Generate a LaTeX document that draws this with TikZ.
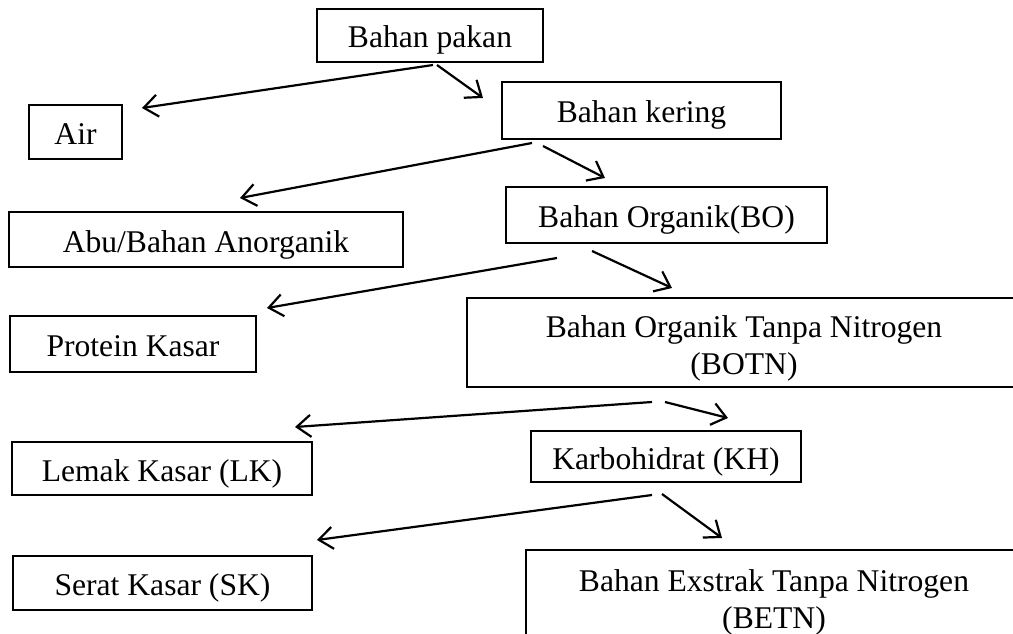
\documentclass[tikz,border=0pt]{standalone}
\usepackage{fontspec}
\setmainfont{Liberation Serif}
\usetikzlibrary{arrows.meta}
\tikzset{
  box/.style={draw, line width=1.8pt, inner sep=0pt, align=center,
    font=\fontsize{31.6}{37}\selectfont, text height=25pt, text depth=0pt},
  twoline/.style={text height=#1, text depth=0pt},
  conn/.style={line width=2.2pt, -{Straight Barb[length=14pt,width=22pt,line width=2.2pt]}}
}
\begin{document}
\begin{tikzpicture}[x=1pt,y=-1pt]
\clip (0,0) rectangle (1013,634);
\fill[white] (0,0) rectangle (1013,634);
% boxes (centre, width, height)
\node[box, minimum width=226pt, minimum height=53pt] (pakan) at (430,35.5) {Bahan pakan};
\node[box, minimum width=93pt, minimum height=54pt] (air) at (75.5,132) {Air};
\node[box, minimum width=279pt, minimum height=57pt] (kering) at (641.5,110.5) {Bahan kering};
\node[box, minimum width=394pt, minimum height=55pt] (abu) at (206,239.5) {Abu/Bahan Anorganik};
\node[box, minimum width=321pt, minimum height=56pt] (bo) at (666.5,215) {Bahan Organik(BO)};
\node[box, minimum width=246pt, minimum height=56pt] (protein) at (133,344) {Protein Kasar};
\node[box, twoline=63pt, minimum width=554pt, minimum height=89pt] (botn) at (744,342.5) {Bahan Organik Tanpa Nitrogen\\(BOTN)};
\node[box, minimum width=300pt, minimum height=53pt] (lemak) at (162,468.5) {Lemak Kasar (LK)};
\node[box, minimum width=270pt, minimum height=51pt] (karbo) at (666,456.5) {Karbohidrat (KH)};
\node[box, minimum width=299pt, minimum height=54pt] (sk) at (162.5,583) {Serat Kasar (SK)};
\node[box, twoline=67pt, minimum width=496pt, minimum height=89pt] (betn) at (774,594.5) {Bahan Exstrak Tanpa Nitrogen\\(BETN)};
% connector end points
\coordinate (p1) at (433,65);   \coordinate (p1e) at (142,108);
\coordinate (p2) at (437,65);   \coordinate (p2e) at (483,98);
\coordinate (k1) at (532,143);  \coordinate (k1e) at (240,198);
\coordinate (k2) at (543,146);  \coordinate (k2e) at (605,178);
\coordinate (b1) at (557,258);  \coordinate (b1e) at (267,308);
\coordinate (b2) at (592,251);  \coordinate (b2e) at (672,288);
\coordinate (n1) at (652,402);  \coordinate (n1e) at (295,427);
\coordinate (n2) at (665,402);  \coordinate (n2e) at (728,418);
\coordinate (c1) at (652,495);  \coordinate (c1e) at (317,540);
\coordinate (c2) at (662,494);  \coordinate (c2e) at (722,538);
\draw[conn] (p1) -- (p1e);
\draw[conn] (p2) -- (p2e);
\draw[conn] (k1) -- (k1e);
\draw[conn] (k2) -- (k2e);
\draw[conn] (b1) -- (b1e);
\draw[conn] (b2) -- (b2e);
\draw[conn] (n1) -- (n1e);
\draw[conn] (n2) -- (n2e);
\draw[conn] (c1) -- (c1e);
\draw[conn] (c2) -- (c2e);
\end{tikzpicture}
\end{document}
